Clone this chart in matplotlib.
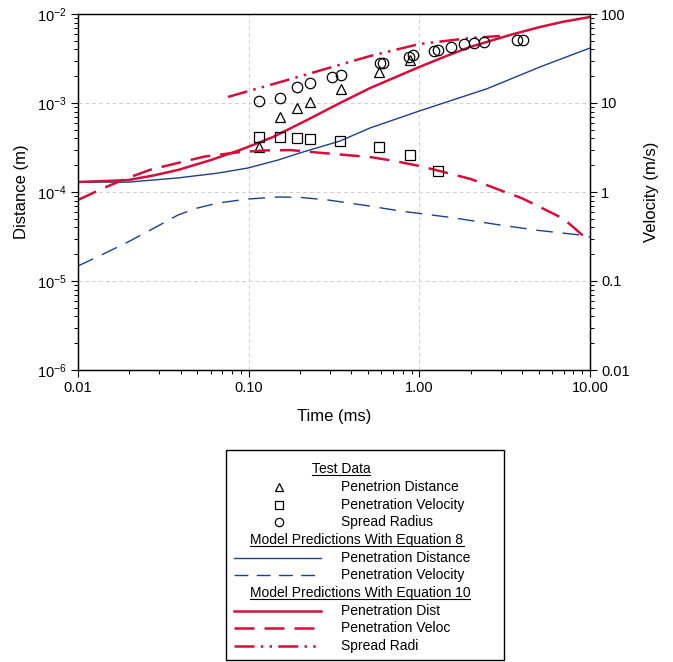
import matplotlib
matplotlib.use("Agg")
import matplotlib.pyplot as plt
import numpy as np
from matplotlib.lines import Line2D
from matplotlib.patches import Rectangle
from matplotlib.ticker import FixedLocator, FuncFormatter, LogLocator, NullFormatter

plt.rcParams['font.family'] = ['Liberation Sans', 'DejaVu Sans']
plt.rcParams['mathtext.fontset'] = 'custom'
plt.rcParams['mathtext.rm'] = 'Liberation Sans'

# test data
t_spread = [0.115, 0.153, 0.192, 0.229, 0.308, 0.348, 0.588, 0.612, 0.870, 0.918,
            1.22, 1.29, 1.53, 1.83, 2.09, 2.39, 3.73, 4.05]
d_spread = [1.05e-3, 1.14e-3, 1.51e-3, 1.68e-3, 1.96e-3, 2.06e-3, 2.81e-3, 2.81e-3, 3.29e-3, 3.46e-3,
            3.84e-3, 3.94e-3, 4.26e-3, 4.60e-3, 4.72e-3, 4.84e-3, 5.10e-3, 5.10e-3]
t_pen = [0.115, 0.153, 0.192, 0.229, 0.348, 0.58, 0.88]
d_pen = [3.2e-4, 6.96e-4, 8.79e-4, 1.03e-3, 1.44e-3, 2.23e-3, 3.04e-3]
t_vel = [0.115, 0.153, 0.192, 0.229, 0.343, 0.58, 0.88, 1.29]
v_vel = [4.15, 4.15, 4.04, 3.94, 3.74, 3.2, 2.6, 1.72]

# model, equation 8
t_eq8_d = [0.01, 0.0196, 0.0386, 0.066, 0.099, 0.149, 0.2, 0.343, 0.514, 1.0, 2.5, 5.09, 10.0]
d_eq8 = [1.295e-4, 1.29e-4, 1.44e-4, 1.63e-4, 1.86e-4, 2.29e-4, 2.75e-4, 3.74e-4, 5.24e-4,
         8.13e-4, 1.45e-3, 2.54e-3, 4.15e-3]
t_eq8_v = [0.01, 0.014, 0.0196, 0.027, 0.0386, 0.05, 0.066, 0.099, 0.149, 0.2, 0.292, 0.5,
           0.771, 1.5, 2.97, 5.0, 8.74, 10.0]
v_eq8 = [0.1475, 0.2, 0.274, 0.38, 0.552, 0.66, 0.752, 0.834, 0.879, 0.87, 0.813, 0.7,
         0.612, 0.52, 0.426, 0.37, 0.329, 0.312]

# model, equation 10
t_eq10_d = [0.01, 0.0196, 0.028, 0.0386, 0.0602, 0.0889, 0.139, 0.22, 0.343, 0.514, 1.0, 1.4,
            1.98, 3.40, 5.09, 7.0, 10.0]
d_eq10 = [1.295e-4, 1.36e-4, 1.54e-4, 1.77e-4, 2.29e-4, 2.96e-4, 4.15e-4, 6.44e-4, 1.0e-3, 1.47e-3,
          2.54e-3, 3.3e-3, 4.26e-3, 5.81e-3, 7.14e-3, 8.2e-3, 9.25e-3]
t_eq10_v = [0.01, 0.014, 0.0196, 0.027, 0.0386, 0.055, 0.0889, 0.125, 0.175, 0.273, 0.514, 0.7,
            1.0, 1.32, 2.0, 2.97, 4.0, 5.09, 7.0, 8.74, 10.0]
v_eq10 = [0.813, 1.1, 1.44, 1.8, 2.12, 2.5, 2.81, 2.93, 2.96, 2.74, 2.47, 2.25,
          1.96, 1.72, 1.4, 1.05, 0.85, 0.678, 0.5, 0.346, 0.274]
t_eq10_r = [0.0757, 0.168, 0.3, 0.514, 1.0, 1.98, 2.97]
r_eq10 = [1.17e-3, 1.81e-3, 2.5e-3, 3.37e-3, 4.6e-3, 5.37e-3, 5.66e-3]

blue = '#1d3f8a'
red = '#d0103a'
dash_dot_dot = (0, (8, 2.5, 1, 2.5, 1, 2.5))

fig = plt.figure(figsize=(6.73, 6.62), dpi=100)
ax = fig.add_axes([78 / 673, 1 - 370 / 662, 512 / 673, 356 / 662])
ax2 = ax.twinx()

ax.set_xscale('log')
ax.set_yscale('log')
ax2.set_yscale('log')
ax.set_xlim(0.01, 10)
ax.set_ylim(1e-6, 1e-2)
ax2.set_ylim(0.01, 100)

ax.grid(True, which='major', color='#cfcfcf', linestyle=(0, (4, 3)), linewidth=0.7)

ax.plot(t_eq8_d, d_eq8, color=blue, lw=1.0)
ax2.plot(t_eq8_v, v_eq8, color=blue, lw=1.0, linestyle=(0, (12, 7)))
ax.plot(t_eq10_d, d_eq10, color=red, lw=1.8)
ax2.plot(t_eq10_v, v_eq10, color=red, lw=1.8, linestyle=(0, (8, 4)))
ax.plot(t_eq10_r, r_eq10, color=red, lw=1.8, linestyle=dash_dot_dot)

mk = dict(linestyle='none', mfc='none', mec='black', ms=7.5, mew=0.9)
ax.plot(t_pen, d_pen, marker='^', **mk)
ax2.plot(t_vel, v_vel, marker='s', **mk)
ax.plot(t_spread, d_spread, marker='o', **mk)

ax.set_xticks([0.01, 0.1, 1, 10])
ax.xaxis.set_major_formatter(FuncFormatter(lambda v, p: '%.2f' % v))
ax.xaxis.set_minor_locator(LogLocator(base=10, subs=np.arange(2, 10)))
ax.xaxis.set_minor_formatter(NullFormatter())
ax.yaxis.set_major_locator(FixedLocator([1e-6, 1e-5, 1e-4, 1e-3, 1e-2]))
ax.yaxis.set_minor_locator(LogLocator(base=10, subs=np.arange(2, 10)))
ax2.yaxis.set_major_locator(FixedLocator([0.01, 0.1, 1, 10, 100]))
ax2.yaxis.set_major_formatter(FuncFormatter(lambda v, p: '%g' % v))
ax2.yaxis.set_minor_locator(LogLocator(base=10, subs=np.arange(2, 10)))
ax2.yaxis.set_minor_formatter(NullFormatter())

for a in (ax, ax2):
    a.tick_params(which='major', direction='out', length=5, width=0.8, labelsize=10.5, pad=3)
    a.tick_params(which='minor', direction='out', length=3, width=0.7)
    for s in a.spines.values():
        s.set_linewidth(0.9)

ax.set_xlabel('Time (ms)', fontsize=12, labelpad=10)
ax.set_ylabel('Distance (m)', fontsize=12, labelpad=6)
ax2.set_ylabel('Velocity (m/s)', fontsize=12, labelpad=10)

# legend box drawn in figure pixels
W, H = 673, 662
def fx(x):
    return x / W
def fy(y):
    return 1 - y / H

fig.patches.append(Rectangle((fx(226), fy(660)), fx(504) - fx(226), fy(450) - fy(660),
                             transform=fig.transFigure, fill=False, edgecolor='black', lw=1.0))

fs = 10
headers = []
def header(txt, xc, y):
    headers.append(fig.text(fx(xc), fy(y), txt, ha='center', va='center', fontsize=fs))

def entry(txt, y):
    fig.text(fx(341), fy(y), txt, ha='left', va='center', fontsize=fs)

def sample_line(y, **kw):
    fig.add_artist(Line2D([fx(234), fx(321)], [fy(y), fy(y)], transform=fig.transFigure, **kw))

def sample_marker(y, m):
    fig.add_artist(Line2D([fx(279)], [fy(y)], transform=fig.transFigure, marker=m,
                          linestyle='none', mfc='none', mec='black', ms=6, mew=0.9))

header('Test Data', 341, 469)
sample_marker(487, '^')
entry('Penetrion Distance', 487)
sample_marker(505, 's')
entry('Penetration Velocity', 505)
sample_marker(522, 'o')
entry('Spread Radius', 522)
header('Model Predictions With Equation 8', 357, 540)
sample_line(558, color=blue, lw=1.0)
entry('Penetration Distance', 558)
sample_line(575, color=blue, lw=1.0, linestyle=(0, (10, 6)))
entry('Penetration Velocity', 575)
header('Model Predictions With Equation 10', 360, 593)
sample_line(611, color=red, lw=1.8)
entry('Penetration Dist', 611)
sample_line(628, color=red, lw=1.8, linestyle=(0, (8, 4)))
entry('Penetration Veloc', 628)
sample_line(646, color=red, lw=1.8, linestyle=dash_dot_dot)
entry('Spread Radi', 646)

# underline headers
fig.canvas.draw()
r = fig.canvas.get_renderer()
for h in headers:
    bb = h.get_window_extent(r).transformed(fig.transFigure.inverted())
    fig.add_artist(Line2D([bb.x0, bb.x1], [bb.y0 + 0.002, bb.y0 + 0.002],
                          transform=fig.transFigure, color='black', lw=0.8))

fig.savefig('out.png', dpi=100)
